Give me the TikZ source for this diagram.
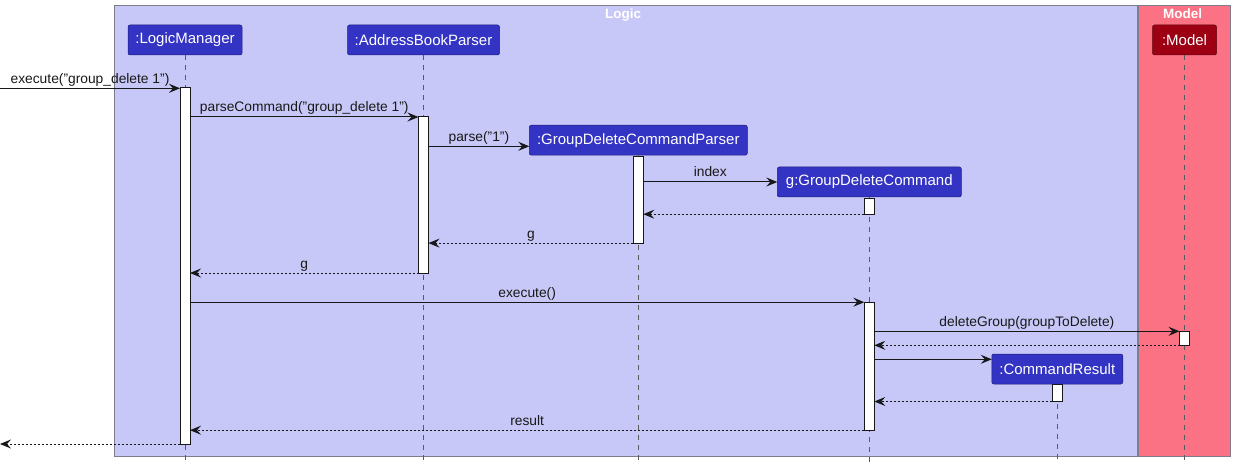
\documentclass[tikz,border=0pt]{standalone}
\usepackage{fontspec}
\setmainfont{Liberation Sans}
\usetikzlibrary{arrows.meta}
\newcommand\dq{\char34\relax}
\definecolor{logicbg}{RGB}{200,200,248}
\definecolor{modelbg}{RGB}{251,114,133}
\definecolor{partblue}{RGB}{51,51,196}
\definecolor{partred}{RGB}{157,0,18}
\definecolor{framegray}{RGB}{125,125,140}
\definecolor{lifegray}{RGB}{90,90,90}
\definecolor{ink}{RGB}{24,24,24}
\tikzset{
  frame/.style={draw=framegray, line width=1pt},
  frametitle/.style={text=white, font=\fontsize{13.5}{15}\selectfont\bfseries, anchor=base},
  part/.style={draw=partblue!60!black, line width=0.5pt, rounded corners=2pt, fill=partblue, text=white,
    minimum height=30pt, inner sep=0pt, outer sep=0pt, font=\fontsize{15}{17}\selectfont},
  partm/.style={part, fill=partred, draw=partred!60!black},
  lifeline/.style={draw=lifegray, line width=0.8pt, dash pattern=on 5pt off 5pt},
  actbar/.style={draw=ink, fill=white, line width=1pt, minimum width=10pt, inner sep=0pt, outer sep=0pt},
  msg/.style={draw=ink, line width=1pt, -{Stealth[length=11pt,width=9pt,inset=4pt]}},
  ret/.style={msg, dash pattern=on 2pt off 2pt},
  lbl/.style={midway, anchor=base, yshift=5pt, inner sep=0pt, text=ink, font=\fontsize{13.8}{16}\selectfont}
}
\begin{document}
\begin{tikzpicture}[x=1pt, y=-1pt]
\useasboundingbox (0,0) rectangle (1235,468);
% frames
\draw[frame, fill=logicbg] (114,6) rectangle (1137,456.5);
\draw[frame, fill=modelbg] (1138.5,6) rectangle (1230.5,456.5);
\node[frametitle] (logictitle) at (623,19) {Logic};
\node[frametitle] (modeltitle) at (1182.5,18.5) {Model};
% participants
\node[part, minimum width=114pt] (lm) at (185,40) {:LogicManager};
\node[part, minimum width=152pt] (abp) at (423.5,40) {:AddressBookParser};
\node[part, minimum width=218pt] (gdcp) at (638.3,140.2) {:GroupDeleteCommandParser};
\node[part, minimum width=184pt] (gdc) at (869.3,182) {g:GroupDeleteCommand};
\node[partm, minimum width=64pt] (model) at (1184.5,40) {:Model};
\node[part, minimum width=131pt] (cr) at (1057.3,369) {:CommandResult};
% lifeline ends
\coordinate (lmend) at (185,462);
\coordinate (abpend) at (423.5,462);
\coordinate (gdcpend) at (638.3,462);
\coordinate (gdcend) at (869.3,462);
\coordinate (modelend) at (1184.5,462);
\coordinate (crend) at (1057.3,462);
\draw[lifeline] (lm.south) -- (lmend);
\draw[lifeline] (abp.south) -- (abpend);
\draw[lifeline] (gdcp.south) -- (gdcpend);
\draw[lifeline] (gdc.south) -- (gdcend);
\draw[lifeline] (model.south) -- (modelend);
\draw[lifeline] (cr.south) -- (crend);
% activation bars
\node[actbar, minimum height=356pt] (lmA) at (185,266) {};
\node[actbar, minimum height=156pt] (abpA) at (423.5,195) {};
\node[actbar, minimum height=87pt] (gdcpA) at (638.3,199.6) {};
\node[actbar, minimum height=16pt] (gdcA1) at (869.3,206.2) {};
\node[actbar, minimum height=128pt] (gdcA2) at (869.3,366.2) {};
\node[actbar, minimum height=14pt] (modelA) at (1184.5,338.3) {};
\node[actbar, minimum height=17pt] (crA) at (1057.3,393) {};
% external endpoints
\coordinate (extin) at (0,88.3);
\coordinate (extout) at (0,444);
% messages
\draw[msg] (extin) -- node[lbl]{execute(\dq group\_delete 1\dq)} (lmA.north west |- extin);
\draw[msg] (lmA.north east |- abpA.north) -- node[lbl]{parseCommand(\dq group\_delete 1\dq)} (abpA.north west);
\coordinate (parsey) at (0,146.3);
\draw[msg] (abpA.east |- parsey) -- node[lbl]{parse(\dq 1\dq)} (gdcp.west |- parsey);
\draw[msg] (gdcpA.east |- gdc.west) -- node[lbl]{index} (gdc.west);
\draw[ret] (gdcA1.south west) -- (gdcpA.east |- gdcA1.south west);
\draw[ret] (gdcpA.south west) -- node[lbl]{g} (abpA.east |- gdcpA.south west);
\draw[ret] (abpA.south west) -- node[lbl]{g} (lmA.east |- abpA.south west);
\draw[msg] (lmA.east |- gdcA2.north west) -- node[lbl]{execute()} (gdcA2.north west);
\draw[msg] (gdcA2.east |- modelA.north west) -- node[lbl]{deleteGroup(groupToDelete)} (modelA.north west);
\draw[ret] (modelA.south west) -- (gdcA2.east |- modelA.south west);
\coordinate (cry) at (0,359.3);
\draw[msg] (gdcA2.east |- cry) -- (cr.west |- cry);
\draw[ret] (crA.south west) -- (gdcA2.east |- crA.south west);
\draw[ret] (gdcA2.south west) -- node[lbl]{result} (lmA.east |- gdcA2.south west);
\draw[ret] (lmA.south west) -- (extout);
\end{tikzpicture}
\end{document}
